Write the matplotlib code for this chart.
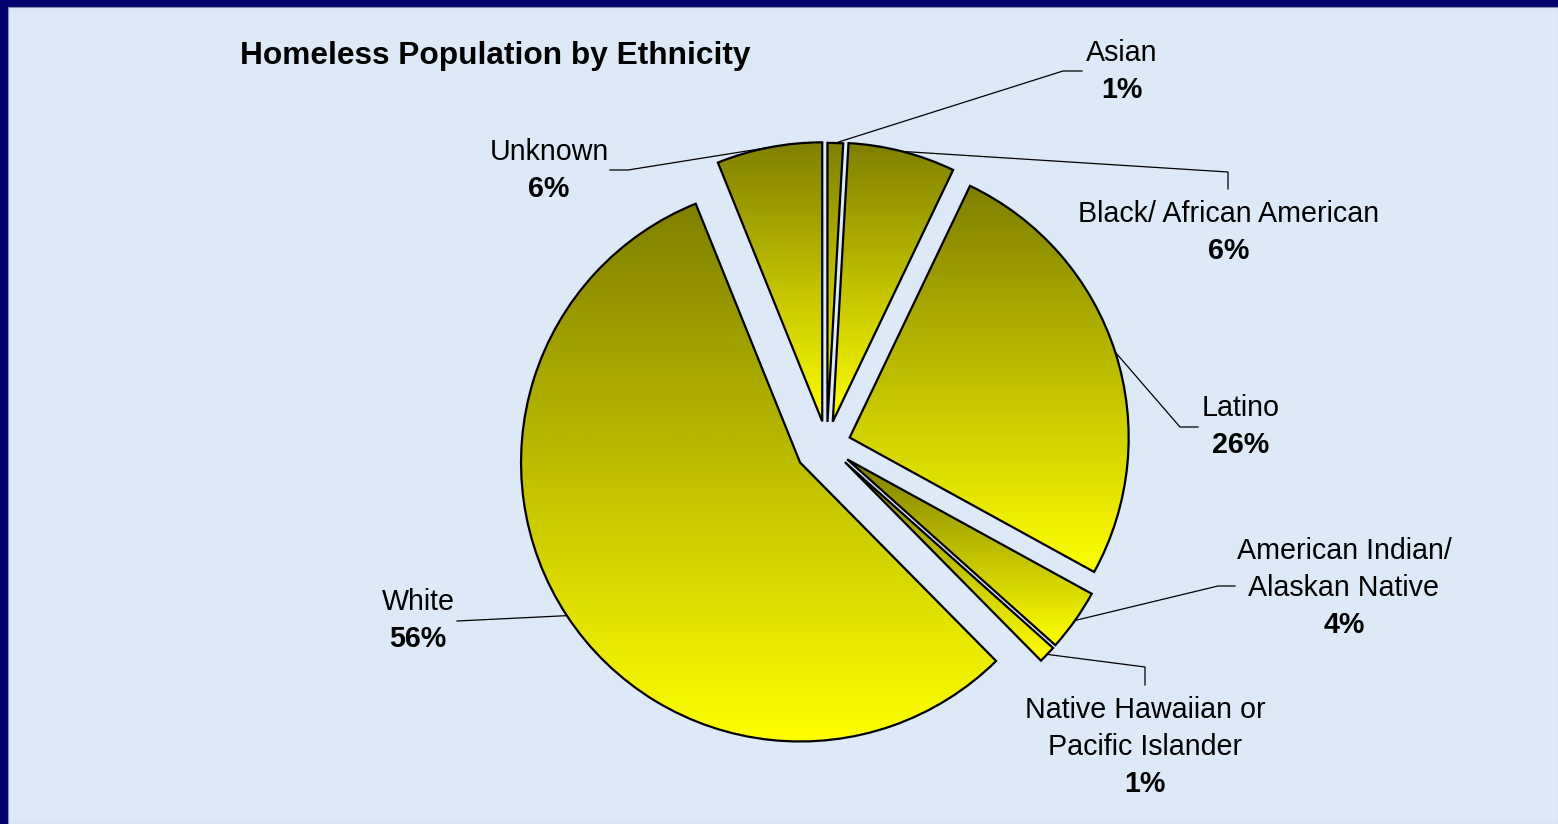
import numpy as np
import matplotlib
matplotlib.use("Agg")
import matplotlib.pyplot as plt
from matplotlib.colors import LinearSegmentedColormap
from matplotlib.patches import Rectangle

# slice data, clockwise from 12 o'clock
groups = ["Asian", "Black/ African American", "Latino",
          "American Indian/\nAlaskan Native", "Native Hawaiian or\nPacific Islander",
          "White", "Unknown"]
shares = [0.9, 6.2, 25.9, 3.6, 1.0, 56.3, 6.1]

# layout (pixel coords, y measured from top)
W, H = 1558, 824
cx, cy, rad = 826.8, 444.9, 279
explode = [23, 24, 24, 25, 25, 32, 24]
# leader line elbow / end points and label centres
elbows = [(1063, 71), (1228, 172), (1180, 427), (1218, 586), (1145, 667), (457, 621), (628, 170)]
ends = [(1082, 71), (1228, 189), (1198, 427), (1235, 586), (1145, 685), (457, 621), (610, 170)]
label_xy = [(1122, 53), (1229, 214), (1241, 408), (1344, 551), (1145, 710), (418, 602), (549, 152)]
line_step = 37

bg = "#dde9f7"
border = "#00006e"
grad = LinearSegmentedColormap.from_list("olive_yellow", ["#7f7f00", "#ffff00"])

plt.rcParams["font.family"] = ["Liberation Sans", "DejaVu Sans"]

fig = plt.figure(figsize=(W / 100, H / 100), dpi=100)
fig.patch.set_facecolor(border)
ax = fig.add_axes([0, 0, 1, 1])

def fy(y):
    return H - y

wedges, _ = ax.pie(shares, radius=rad, center=(cx, fy(cy)), startangle=90,
                   counterclock=False, explode=explode,
                   wedgeprops=dict(facecolor="none", edgecolor="black", linewidth=1.6))

ax.set_xlim(0, W)
ax.set_ylim(0, H)
ax.set_aspect("auto")
ax.axis("off")

# background panel with the navy frame on top/left
ax.add_patch(Rectangle((8, 0), W - 8, H - 7, facecolor=bg, edgecolor="#8a8fa8",
                       linewidth=0.8, zorder=0))

ramp = np.linspace(0, 1, 256).reshape(-1, 1)
for w in wedges:
    w.set_zorder(3)
    ext = w.get_path().get_extents()
    im = ax.imshow(ramp, cmap=grad, extent=[ext.x0, ext.x1, ext.y0, ext.y1],
                   origin="upper", aspect="auto", interpolation="bilinear", zorder=2)
    im.set_clip_path(w)

ax.set_xlim(0, W)
ax.set_ylim(0, H)

# leader lines and labels
for i, w in enumerate(wedges):
    tm = np.deg2rad((w.theta1 + w.theta2) / 2)
    ax0 = w.center[0] + w.r * np.cos(tm)
    ay0 = w.center[1] + w.r * np.sin(tm)
    ex, ey = elbows[i]
    nx, ny = ends[i]
    ax.plot([ax0, ex, nx], [ay0, fy(ey), fy(ny)], color="black", lw=0.9, zorder=4)

    lx, ly = label_xy[i]
    lines = groups[i].split("\n")
    for k, t in enumerate(lines):
        ax.text(lx, fy(ly + k * line_step), t, ha="center", va="center",
                fontsize=20.6, color="black", zorder=5)
    ax.text(lx, fy(ly + len(lines) * line_step), f"{round(shares[i])}%",
            ha="center", va="center", fontsize=20.6, fontweight="bold", color="black", zorder=5)

ax.text(240, fy(56), "Homeless Population by Ethnicity", ha="left", va="center",
        fontsize=22.8, fontweight="bold", color="black", zorder=5)

fig.savefig("out.png", dpi=100, facecolor=fig.get_facecolor())
